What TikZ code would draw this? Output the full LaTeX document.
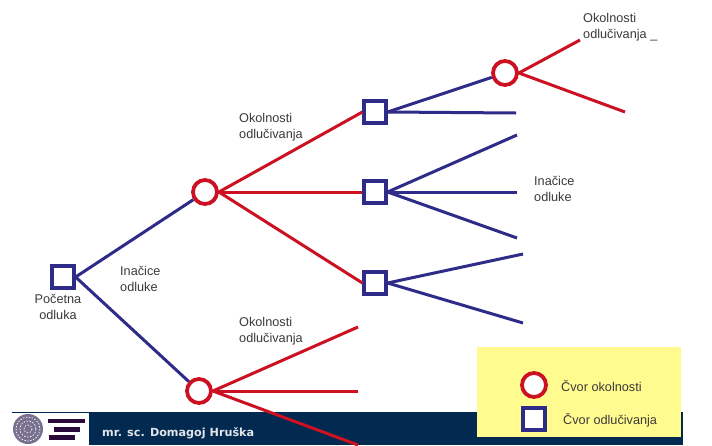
\documentclass[tikz,border=0pt]{standalone}
\usepackage{fontspec}
\setmainfont{Liberation Sans}
\newfontfamily\bannerfont{DejaVu Sans}
\definecolor{navy}{HTML}{02294F}
\definecolor{redline}{HTML}{CC1122}
\definecolor{blueline}{HTML}{2E2C88}
\definecolor{legendbg}{HTML}{FFFB8F}
\definecolor{txt}{HTML}{3A3A3A}
\definecolor{seal}{HTML}{77708F}
\definecolor{barcol}{HTML}{2A0A3A}
\tikzset{
  x=1pt,y=-1pt,
  decisionnode/.style={draw=blueline,line width=3.2pt,fill=white,minimum size=22pt,inner sep=0pt,rectangle},
  chancenode/.style={draw=redline,line width=3.8pt,fill=white,minimum size=24pt,inner sep=0pt,circle},
  redlink/.style={draw=redline,line width=3pt},
  bluelink/.style={draw=blueline,line width=3pt},
  lbl/.style={text=txt,font=\fontsize{12.7}{16}\selectfont,align=left,inner sep=0pt,anchor=north west},
  lblc/.style={text=txt,font=\fontsize{12.7}{16}\selectfont,align=center,inner sep=0pt,anchor=north},
  bar/.style={fill=barcol,draw=none},
}
\begin{document}
\begin{tikzpicture}
\useasboundingbox (0,0) rectangle (712,445);
\fill[white] (0,0) rectangle (712,445);
% banner
\fill[navy] (12,412) rectangle (683,445);
\fill[white] (12,413) rectangle (89,445);
\fill[seal] (28,429) circle (15);
\foreach \r in {4,8,12}{\draw[white,line width=0.7pt,dash pattern=on 1.5pt off 1.5pt] (28,429) circle (\r);}
\fill[bar] (48,419) rectangle (85,423);
\fill[bar] (54,427) rectangle (80,432);
\fill[bar] (49,435) rectangle (75,440);
\node[anchor=west,inner sep=0pt,text=white!88!navy,font=\bannerfont\fontsize{11.2}{13}\selectfont\bfseries] (author) at (102,433) {mr. sc. Domagoj Hruška};
% legend
\fill[legendbg] (477,347) rectangle (681,437);
% nodes
\node[decisionnode] (start) at (63,277) {};
\node[chancenode] (c1) at (205,192) {};
\node[chancenode] (c2) at (199,391) {};
\node[decisionnode] (s1) at (375,112) {};
\node[decisionnode] (s2) at (375,192) {};
\node[decisionnode] (s3) at (375,283) {};
\node[chancenode] (c3) at (505,73) {};
\node[chancenode] (lc) at (534,385) {};
\node[decisionnode] (ls) at (534,419) {};
% free ends
\coordinate (e1) at (580,40);
\coordinate (e2) at (625,112);
\coordinate (e3) at (516,113);
\coordinate (e4) at (517,135);
\coordinate (e5) at (517,192);
\coordinate (e6) at (517,238);
\coordinate (e7) at (523,254);
\coordinate (e8) at (523,323);
\coordinate (e9) at (358,327);
\coordinate (e10) at (358,391);
\coordinate (e11) at (358,445);
% connectors
\draw[bluelink] (start.east) -- (c1);
\draw[bluelink] (start.east) -- (c2);
\draw[redlink] (c1.east) -- (s1.west);
\draw[redlink] (c1.east) -- (s2.west);
\draw[redlink] (c1.east) -- (s3.west);
\draw[bluelink] (s1.east) -- (c3);
\draw[bluelink] (s1.east) -- (e3);
\draw[bluelink] (s2.east) -- (e4);
\draw[bluelink] (s2.east) -- (e5);
\draw[bluelink] (s2.east) -- (e6);
\draw[bluelink] (s3.east) -- (e7);
\draw[bluelink] (s3.east) -- (e8);
\draw[redlink] (c3.east) -- (e1);
\draw[redlink] (c3.east) -- (e2);
\draw[redlink] (c2.east) -- (e9);
\draw[redlink] (c2.east) -- (e10);
\draw[redlink] (c2.east) -- (e11);
% labels
\node[lbl] (t1) at (583,13) {Okolnosti\\odlučivanja \_};
\node[lbl] (t2) at (239,113) {Okolnosti\\odlučivanja};
\node[lbl] (t3) at (534,176) {Inačice\\odluke};
\node[lbl] (t4) at (120,266) {Inačice\\odluke};
\node[lblc] (t5) at (58,294) {Početna\\odluka};
\node[lbl] (t6) at (239,317) {Okolnosti\\odlučivanja};
\node[lbl] (t7) at (561,380) {Čvor okolnosti};
\node[lbl] (t8) at (563,413) {Čvor odlučivanja};
\end{tikzpicture}
\end{document}
